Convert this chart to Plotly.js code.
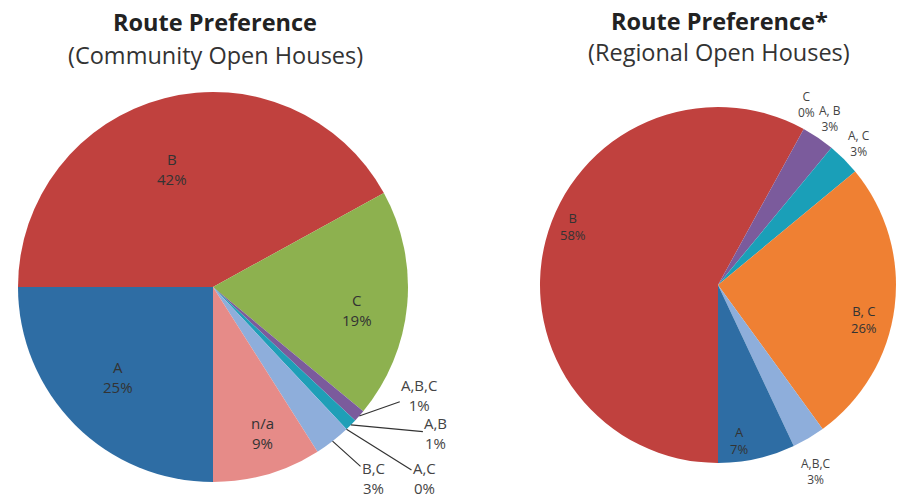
<!DOCTYPE html>
<html>
<head>
<meta charset="utf-8">
<script src="https://cdn.plot.ly/plotly-3.0.1.min.js"></script>
<style>html,body{margin:0;padding:0;background:#fff;}#chart{width:897px;height:498px;}</style>
</head>
<body>
<div id="chart"></div>
<script>
// Left pie: Community Open Houses (percent)
const communityLabels = ["B", "C", "A,B,C", "A,B", "A,C", "B,C", "n/a", "A"];
const communityValues = [42, 19, 1, 1, 0, 3, 9, 25];
const communityColors = ["#c0413e", "#8db14f", "#7b5b9c", "#1f9fb7", "#ef8a3a", "#8eaedb", "#e68b88", "#2e6da4"];

// Right pie: Regional Open Houses (percent)
const regionalLabels = ["B", "C", "A, B", "A, C", "B, C", "A,B,C", "A"];
const regionalValues = [58, 0, 3, 3, 26, 3, 7];
const regionalColors = ["#c0413e", "#8db14f", "#7b5b9c", "#1a9fb8", "#ef8033", "#8eaedb", "#2e6da4"];

const titles = [
  {main: "Route Preference", sub: "(Community Open Houses)"},
  {main: "Route Preference*", sub: "(Regional Open Houses)"}
];

// ---- layout / styling (not data) ----
const W = 897, H = 498;
const font = "'Open Sans', 'DejaVu Sans', sans-serif";
// label placement per slice: inside -> radial fraction f and angle shift da (deg);
// outside -> pixel offset [ax, ay] from the slice's edge point
const pies = [
  {cx: 213, cy: 287, r: 195, rotation: 270, arrow: true, inSize: 15, outSize: 15,
   titleX: 215, titleY: 22, subY: 55,
   place: [{f: 0.64, da: -5}, {f: 0.75, da: 3.5}, {o: [60, -21]}, {o: [85, 8]},
           {o: [78, 49]}, {o: [41, 37]}, {f: 0.79, da: -2.4}, {f: 0.67, da: 1.5}]},
  {cx: 718, cy: 285, r: 178, rotation: 180, arrow: false, inSize: 13, outSize: 12,
   titleX: 719, titleY: 21, subY: 52,
   place: [{f: 0.88, da: 7.7}, {o: [3, -25]}, {o: [12, -19]}, {o: [15, -16]},
           {f: 0.84, da: 6}, {o: [7, 33]}, {f: 0.88, da: 4.9}]}
];
const datasets = [
  {labels: communityLabels, values: communityValues, colors: communityColors},
  {labels: regionalLabels, values: regionalValues, colors: regionalColors}
];

function domainOf(p) {
  return {x: [(p.cx - p.r) / W, (p.cx + p.r) / W], y: [1 - (p.cy + p.r) / H, 1 - (p.cy - p.r) / H]};
}
// point at radial fraction f on the middle angle of slice i (clockwise from 12 o'clock + rotation)
function slicePoint(values, i, p, f, da) {
  const total = values.reduce((a, b) => a + b, 0);
  let before = 0;
  for (let k = 0; k < i; k++) before += values[k];
  const ang = (p.rotation + 360 * (before + values[i] / 2) / total + (da || 0)) * Math.PI / 180;
  const px = p.cx + f * p.r * Math.sin(ang), py = p.cy - f * p.r * Math.cos(ang);
  return {x: px / W, y: 1 - py / H};
}

const traces = [];
const annotations = [];
datasets.forEach((d, j) => {
  const p = pies[j];
  traces.push({
    type: "pie",
    labels: d.labels,
    values: d.values,
    marker: {colors: d.colors, line: {width: 0}},
    sort: false,
    direction: "clockwise",
    rotation: p.rotation,
    textinfo: "none",
    domain: domainOf(p),
    showlegend: false,
    hoverinfo: "label+value"
  });
  d.labels.forEach((lab, i) => {
    const pl = p.place[i];
    const text = lab + "<br>" + d.values[i] + "%";
    if (pl.o) {
      const tip = slicePoint(d.values, i, p, 1, 0);
      annotations.push({
        text: text, x: tip.x, y: tip.y, xref: "paper", yref: "paper",
        showarrow: true, ax: pl.o[0], ay: pl.o[1],
        arrowhead: 0, arrowwidth: 1.2, standoff: 0,
        arrowcolor: p.arrow ? "#333333" : "rgba(0,0,0,0)",
        align: "center",
        font: {family: font, size: p.outSize, color: "#444444"}
      });
    } else {
      const pt = slicePoint(d.values, i, p, pl.f, pl.da);
      annotations.push({
        text: text, x: pt.x, y: pt.y, xref: "paper", yref: "paper",
        xanchor: "center", yanchor: "middle", showarrow: false, align: "center",
        font: {family: font, size: p.inSize, color: "#333333"}
      });
    }
  });
  annotations.push({text: "<b>" + titles[j].main + "</b>", x: p.titleX / W, y: 1 - p.titleY / H,
    xref: "paper", yref: "paper", xanchor: "center", yanchor: "middle", showarrow: false,
    font: {family: font, size: 23.5, color: "#222222"}});
  annotations.push({text: titles[j].sub, x: p.titleX / W, y: 1 - p.subY / H,
    xref: "paper", yref: "paper", xanchor: "center", yanchor: "middle", showarrow: false,
    font: {family: font, size: 23.5, color: "#333333"}});
});

const layout = {
  width: W, height: H,
  margin: {l: 0, r: 0, t: 0, b: 0},
  paper_bgcolor: "#ffffff",
  plot_bgcolor: "#ffffff",
  font: {family: font},
  annotations: annotations
};

Plotly.newPlot("chart", traces, layout, {displayModeBar: false, staticPlot: true});
</script>
</body>
</html>
